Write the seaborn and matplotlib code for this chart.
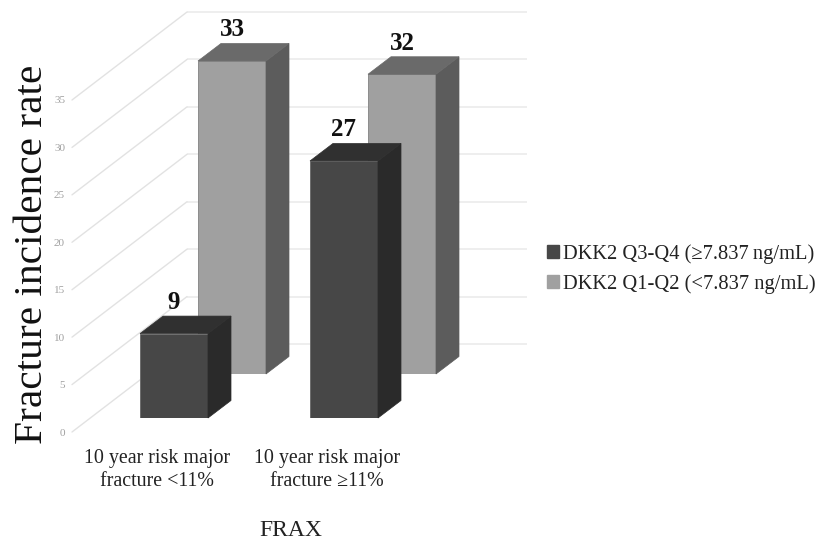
import matplotlib
matplotlib.use('Agg')
import matplotlib.pyplot as plt
from matplotlib.patches import Patch, Polygon
import pandas as pd
import seaborn as sns

categories = ['10 year risk major\nfracture <11%', '10 year risk major\nfracture \u226511%']
series_names = ['DKK2 Q3-Q4 (\u22657.837\u2009ng/mL)', 'DKK2 Q1-Q2 (<7.837 ng/mL)']
front_values = [8.9, 27.1]
back_values = [33.0, 31.6]
y_ticks = [0, 5, 10, 15, 20, 25, 30, 35]

W, H = 817, 540
PLANE_W, PLANE_H = 340, 332   # pixel size of one depth plane
UNIT_X = PLANE_W / 2
UNIT_Y = PLANE_H / 35

sns.set_style('white')
plt.rcParams['font.family'] = ['Liberation Serif', 'DejaVu Serif']

fig = plt.figure(figsize=(W / 100, H / 100), dpi=100)


def plane(dx, dy):
    # axes shifted back into the fake depth, dx/dy in pixels from the axis plane
    ax = fig.add_axes([(72 + dx) / W, (H - 432 + dy) / H, PLANE_W / W, PLANE_H / H])
    ax.patch.set_visible(False)
    sns.despine(ax=ax, left=True, bottom=True)
    ax.tick_params(length=0)
    return ax


def bars3d(ax, values, face, side, top, edge):
    df = pd.DataFrame({'cat': categories, 'val': values})
    sns.barplot(data=df, x='cat', y='val', color=face, saturation=1, width=0.4, ax=ax,
                edgecolor=edge, linewidth=0.7)
    ddx, ddy = 23 / UNIT_X, 17.5 / UNIT_Y
    for bar, v in zip(ax.patches, values):
        x0 = bar.get_x()
        x1 = x0 + bar.get_width()
        h = bar.get_height()
        ax.add_patch(Polygon([(x1, 0), (x1 + ddx, ddy), (x1 + ddx, h + ddy), (x1, h)],
                             fc=side, ec=side, lw=0.5, clip_on=False))
        ax.add_patch(Polygon([(x0, h), (x0 + ddx, h + ddy), (x1 + ddx, h + ddy), (x1, h)],
                             fc=top, ec=top, lw=0.5, clip_on=False))
        ax.annotate(f'{v:.0f}', (x0 + bar.get_width() / 2, h), xytext=(0, 22.5),
                    textcoords='offset points', ha='center', va='center',
                    fontsize=18, fontweight='bold', color='#111111')
    ax.set_xlim(-0.5, 1.5)
    ax.set_ylim(0, 35)
    ax.set_axis_off()


# back wall
wall = plane(115, 88)
wall.hlines(y_ticks, -0.5, 1.5, color='#ebebeb', lw=1.2, clip_on=False)
wall.set_xlim(-0.5, 1.5)
wall.set_ylim(0, 35)
wall.set_axis_off()

# axis plane with ticks, labels and the slanted floor lines
axis_ax = plane(0, 0)
for t in y_ticks:
    axis_ax.plot([-0.5, -0.5 + 115 / UNIT_X], [t, t + 88 / UNIT_Y], color='#e2e2e2', lw=1, clip_on=False)
axis_ax.set_xlim(-0.5, 1.5)
axis_ax.set_ylim(0, 35)
axis_ax.set_xticks([0, 1], categories, fontsize=14.4, color='#222222', linespacing=1.3)
axis_ax.set_yticks(y_ticks, [str(t) for t in y_ticks], fontsize=8, color='#a0a0a0')
axis_ax.tick_params(axis='x', pad=12)
axis_ax.tick_params(axis='y', pad=5)
axis_ax.set_ylabel('Fracture incidence rate', fontsize=29.8, color='#111111', va='center')
axis_ax.yaxis.set_label_coords((33 - 72) / PLANE_W, (432 - 254) / PLANE_H)
axis_ax.set_xlabel('FRAX', fontsize=17, color='#222222', va='center')
axis_ax.xaxis.set_label_coords((291 - 72) / PLANE_W, (432 - 530) / PLANE_H)

back_ax = plane(75, 58)
bars3d(back_ax, back_values, '#a0a0a0', '#5c5c5c', '#6a6a6a', '#8c8c8c')

front_ax = plane(17, 14)
bars3d(front_ax, front_values, '#474747', '#2a2a2a', '#303030', '#6e6e6e')

handles = [Patch(fc='#474747', ec='#474747'), Patch(fc='#a0a0a0', ec='#a0a0a0')]
fig.legend(handles, series_names, loc='center left', bbox_to_anchor=(547 / W, 1 - 269 / H),
           frameon=False, fontsize=14.8, handlelength=0.58, handleheight=0.6,
           handletextpad=0.2, labelspacing=0.5, labelcolor='#222222',
           borderpad=0, borderaxespad=0)

fig.savefig('out.png', dpi=100)
